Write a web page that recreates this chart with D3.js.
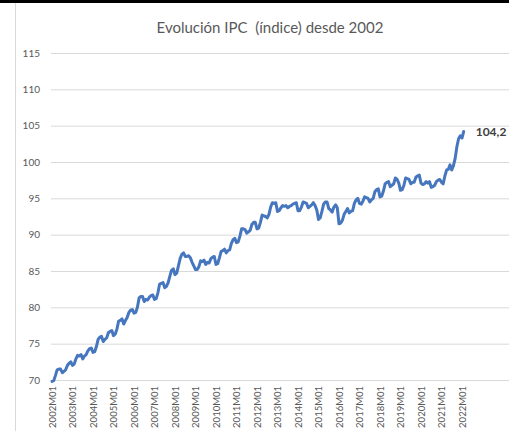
<!DOCTYPE html>
<html>
<head>
<meta charset="utf-8">
<script src="https://cdn.jsdelivr.net/npm/d3@7"></script>
<style>
  html, body { margin: 0; padding: 0; background: #fff; }
  svg { display: block; }
</style>
</head>
<body>
<svg id="chart" width="509" height="431"></svg>
<script>
// ---- Data (IPC index, monthly) ----
const years = [2002, 2003, 2004, 2005, 2006, 2007, 2008, 2009, 2010, 2011,
               2012, 2013, 2014, 2015, 2016, 2017, 2018, 2019, 2020, 2021, 2022];
const v2002 = [69.8, 69.9, 70.6, 71.4, 71.5, 71.5, 71.0, 71.2, 71.4, 72.0, 72.3, 72.5];
const v2003 = [72.0, 72.2, 72.9, 73.4, 73.3, 73.5, 72.9, 73.3, 73.5, 74.0, 74.3, 74.4];
const v2004 = [73.8, 73.9, 74.6, 75.6, 75.9, 76.0, 75.3, 75.6, 75.8, 76.5, 76.7, 76.8];
const v2005 = [76.1, 76.3, 77.0, 78.1, 78.2, 78.4, 77.7, 78.2, 78.6, 79.3, 79.6, 79.7];
const v2006 = [79.2, 79.3, 80.0, 81.3, 81.5, 81.5, 80.8, 81.1, 81.0, 81.4, 81.6, 81.7];
const v2007 = [81.1, 81.2, 82.0, 83.2, 83.3, 83.4, 82.7, 82.9, 83.4, 84.3, 85.1, 85.3];
const v2008 = [84.5, 84.7, 85.7, 86.7, 87.3, 87.5, 87.0, 87.0, 87.1, 86.8, 86.2, 85.7];
const v2009 = [85.2, 85.2, 85.6, 86.4, 86.3, 86.5, 85.9, 86.2, 86.1, 86.7, 86.9, 87.0];
const v2010 = [85.9, 86.0, 86.8, 87.7, 87.8, 88.0, 87.5, 87.8, 87.9, 88.8, 89.3, 89.5];
const v2011 = [88.9, 89.0, 89.8, 90.8, 90.8, 90.7, 90.2, 90.4, 90.6, 91.4, 91.7, 91.7];
const v2012 = [90.8, 90.9, 91.7, 92.7, 92.6, 92.5, 92.3, 92.8, 93.8, 94.4, 94.3, 94.4];
const v2013 = [93.2, 93.3, 93.7, 94.0, 93.9, 94.0, 93.7, 93.9, 94.0, 94.2, 94.3, 94.4];
const v2014 = [93.3, 93.3, 93.8, 94.5, 94.4, 94.3, 93.7, 93.9, 94.1, 94.4, 94.0, 93.4];
const v2015 = [92.1, 92.3, 93.2, 94.2, 94.5, 94.5, 93.6, 93.4, 93.1, 93.8, 94.1, 93.7];
const v2016 = [91.5, 91.6, 92.0, 92.8, 93.2, 93.6, 93.0, 93.2, 93.3, 94.3, 94.8, 95.0];
const v2017 = [94.3, 94.2, 94.6, 95.2, 95.1, 95.0, 94.5, 94.8, 95.0, 95.9, 96.2, 96.3];
const v2018 = [95.2, 95.3, 96.0, 97.0, 97.2, 97.3, 96.6, 96.8, 97.0, 97.8, 97.6, 97.1];
const v2019 = [96.1, 96.2, 96.8, 97.8, 97.7, 97.6, 97.0, 97.2, 97.2, 97.9, 98.1, 98.2];
const v2020 = [97.1, 96.9, 97.0, 97.3, 97.1, 97.3, 96.5, 96.6, 96.8, 97.3, 97.5, 97.6];
const v2021 = [97.2, 97.0, 98.1, 98.9, 99.0, 99.6, 98.9, 99.5, 100.5, 102.1, 103.2, 103.6];
const v2022 = [103.3, 104.2];
const seriesByYear = [v2002, v2003, v2004, v2005, v2006, v2007, v2008, v2009, v2010, v2011,
                      v2012, v2013, v2014, v2015, v2016, v2017, v2018, v2019, v2020, v2021, v2022];

const yTicks = [70, 75, 80, 85, 90, 95, 100, 105, 110, 115];
const xTickLabels = ["2002M01", "2003M01", "2004M01", "2005M01", "2006M01", "2007M01", "2008M01",
  "2009M01", "2010M01", "2011M01", "2012M01", "2013M01", "2014M01", "2015M01", "2016M01",
  "2017M01", "2018M01", "2019M01", "2020M01", "2021M01", "2022M01"];
const titleText = "Evolución IPC  (índice) desde 2002";
const endLabel = "104,2";

// Build the table of {cat, value}
const data = [];
years.forEach((yr, k) => {
  seriesByYear[k].forEach((v, m) => {
    data.push({ cat: yr + "M" + String(m + 1).padStart(2, "0"), value: v });
  });
});

// ---- Layout ----
const W = 509, H = 431;
const plotLeft = 51, plotRight = 509;
const firstX = 52, stepX = 410 / 240;
const yTop = 53, yBottom = 380;
const fontFam = "Lato, 'Open Sans', 'DejaVu Sans', sans-serif";

const svg = d3.select("#chart");

// outer chart frame pieces
svg.append("rect").attr("x", 0).attr("y", 0).attr("width", W).attr("height", 3).attr("fill", "#000");
svg.append("line").attr("x1", 15.5).attr("x2", 15.5).attr("y1", 3).attr("y2", H)
  .attr("stroke", "#d9d9d9").attr("stroke-width", 1);

const x = d3.scalePoint()
  .domain(data.map(d => d.cat))
  .range([firstX, firstX + stepX * (data.length - 1)]);

const y = d3.scaleLinear().domain([70, 115]).range([yBottom, yTop]);

// Y axis with gridlines
const yAxis = d3.axisLeft(y)
  .tickValues(yTicks)
  .tickSizeInner(-(plotRight - plotLeft))
  .tickSizeOuter(0)
  .tickPadding(11)
  .tickFormat(d3.format("d"));

const gy = svg.append("g").attr("transform", `translate(${plotLeft},0)`).call(yAxis);
gy.select(".domain").remove();
gy.selectAll(".tick line").attr("stroke", "#d9d9d9").attr("stroke-width", 1);
gy.selectAll(".tick text")
  .attr("fill", "#595959")
  .style("font-family", fontFam)
  .style("font-size", "10px");

// X axis labels
const xAxis = d3.axisBottom(x).tickValues(xTickLabels).tickSize(0).tickPadding(0);
const gx = svg.append("g").attr("transform", `translate(0,${yBottom})`).call(xAxis);
gx.select(".domain").remove();
gx.selectAll(".tick text")
  .attr("transform", "rotate(-90)")
  .attr("text-anchor", "end")
  .attr("x", -6)
  .attr("y", 0)
  .attr("dy", "0.35em")
  .attr("fill", "#595959")
  .style("font-family", fontFam)
  .style("font-size", "9.5px");

// Line
const line = d3.line().x(d => x(d.cat)).y(d => y(d.value));
svg.append("path")
  .datum(data)
  .attr("fill", "none")
  .attr("stroke", "#4677be")
  .attr("stroke-width", 3)
  .attr("stroke-linejoin", "round")
  .attr("stroke-linecap", "round")
  .attr("d", line);

// End label
const last = data[data.length - 1];
svg.append("text")
  .attr("x", x(last.cat) + 12)
  .attr("y", y(last.value))
  .attr("dy", "0.35em")
  .attr("fill", "#404040")
  .style("font-family", fontFam)
  .style("font-size", "12px")
  .style("font-weight", "bold")
  .text(endLabel);

// Title
svg.append("text")
  .attr("x", 270)
  .attr("y", 33)
  .attr("text-anchor", "middle")
  .attr("fill", "#595959")
  .style("font-family", fontFam)
  .style("font-size", "15px")
  .style("white-space", "pre")
  .text(titleText);
</script>
</body>
</html>
